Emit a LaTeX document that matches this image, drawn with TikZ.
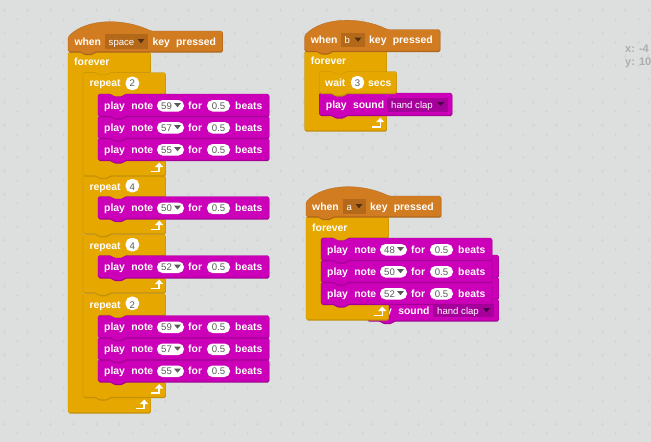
\documentclass[tikz,border=0pt]{standalone}
\usepackage{fontspec}
\setmainfont{Liberation Sans}
\definecolor{bg}{HTML}{DDDEDE}
\definecolor{dotc}{HTML}{D3D4D4}
\definecolor{hatc}{HTML}{D27C22}
\definecolor{hatl}{HTML}{A9641C}
\definecolor{hatbox}{HTML}{B4681A}
\definecolor{ctlc}{HTML}{E6A800}
\definecolor{ctll}{HTML}{C08E08}
\definecolor{sndc}{HTML}{CC00B8}
\definecolor{sndl}{HTML}{A00094}
\definecolor{sndbox}{HTML}{A6009A}
\newcounter{txtno}
\newcommand\blkfont{\bfseries\fontsize{10.4}{12}\selectfont\spaceskip=6.3pt\relax}
\newcommand\valfont{\fontsize{9.6}{11}\selectfont}
\tikzset{
  blktext/.style={anchor=base west,inner sep=0pt,text=white,font=\blkfont},
  valtext/.style={anchor=base,inner sep=0pt,text=black!65,font=\valfont},
  boxtext/.style={anchor=base west,inner sep=0pt,text=white,font=\valfont},
  coordtext/.style={anchor=base west,inner sep=0pt,text=black!32,font=\bfseries\fontsize{11}{13}\selectfont},
  bevel/.style={preaction={fill=#1,transform canvas={xshift=.3pt,yshift=-1pt}},draw=#1,line width=.25pt},
  hatblk/.style={bevel=hatl,fill=hatc},
  ctlblk/.style={bevel=ctll,fill=ctlc},
  sndblk/.style={bevel=sndl,fill=sndc},
}
% text node with an automatic name
\newcommand\txt[4]{\stepcounter{txtno}\node[#3] (t\arabic{txtno}) at ({#1},{#2}) {#4};}
% oval input: x1 x2 ytop ybottom
\newcommand\inpoval[4]{\fill[white,rounded corners=5.5pt] ({#1},{#3}) rectangle ({#2},{#4});}
\newcommand\tri[3]{\fill[#3] ({#1-3.5},{#2-2}) -- ({#1+3.5},{#2-2}) -- ({#1},{#2+2.2}) -- cycle;}
% stack block: x y w h style
\newcommand\stk[5]{\path[#5,rounded corners=1.5pt]
  (#1,#2) -- ({#1+13},#2) -- ({#1+15.5},{#2+2.5}) -- ({#1+24.5},{#2+2.5}) -- ({#1+27},#2)
  -- ({#1+#3},#2) -- ({#1+#3},{#2+#4})
  -- ({#1+27},{#2+#4}) -- ({#1+24.5},{#2+#4+2.5}) -- ({#1+15.5},{#2+#4+2.5}) -- ({#1+13},{#2+#4})
  -- (#1,{#2+#4}) -- cycle;}
% C block: x y w arm headh innerh footh bumpdepth
\newcommand\cblk[8]{\path[ctlblk,rounded corners=1.5pt]
  (#1,#2) -- ({#1+13},#2) -- ({#1+15.5},{#2+2.5}) -- ({#1+24.5},{#2+2.5}) -- ({#1+27},#2)
  -- ({#1+#3},#2) -- ({#1+#3},{#2+#5})
  -- ({#1+#4+27},{#2+#5}) -- ({#1+#4+24.5},{#2+#5+2.5}) -- ({#1+#4+15.5},{#2+#5+2.5}) -- ({#1+#4+13},{#2+#5})
  -- ({#1+#4},{#2+#5}) -- ({#1+#4},{#2+#5+#6})
  -- ({#1+#4+13},{#2+#5+#6}) -- ({#1+#4+15.5},{#2+#5+#6+2.5}) -- ({#1+#4+24.5},{#2+#5+#6+2.5}) -- ({#1+#4+27},{#2+#5+#6})
  -- ({#1+#3},{#2+#5+#6}) -- ({#1+#3},{#2+#5+#6+#7})
  -- ({#1+27},{#2+#5+#6+#7}) -- ({#1+24.5},{#2+#5+#6+#7+#8}) -- ({#1+15.5},{#2+#5+#6+#7+#8}) -- ({#1+13},{#2+#5+#6+#7})
  -- (#1,{#2+#5+#6+#7}) -- cycle;
  \draw[white,line width=1.6pt] ({#1+#3-15},{#2+#5+#6+#7-4}) -- ({#1+#3-6.3},{#2+#5+#6+#7-4}) -- ({#1+#3-6.3},{#2+#5+#6+#7-9});
  \fill[white] ({#1+#3-10.5},{#2+#5+#6+#7-8.5}) -- ({#1+#3-6.3},{#2+#5+#6+#7-13}) -- ({#1+#3-2.3},{#2+#5+#6+#7-8.5}) -- cycle;}
% hat: x y(body top) w h
\newcommand\hatblock[4]{\path[hatblk,rounded corners=1.5pt]
  (#1,{#2+6}) .. controls ({#1+18},{#2-13}) and ({#1+56},{#2-13}) .. ({#1+83},#2)
  -- ({#1+#3},#2) -- ({#1+#3},{#2+#4})
  -- ({#1+27},{#2+#4}) -- ({#1+24.5},{#2+#4+2.5}) -- ({#1+15.5},{#2+#4+2.5}) -- ({#1+13},{#2+#4})
  -- (#1,{#2+#4}) -- cycle;}
% hat labels: x(when) baseline x1 x2 (box) key-x letter
\newcommand\hattext[6]{\txt{#1}{#2}{blktext}{when}
  \fill[hatbox] (#3,{#2-11}) rectangle (#4,{#2+3.5});
  \txt{#3+3.5}{#2}{boxtext}{#6}
  \tri{#4-7}{#2-4}{black!55!hatbox}
  \txt{#5}{#2}{blktext}{key pressed}}
% play note: x y value
\newcommand\pnote[3]{\stk{#1}{#2}{171}{22}{sndblk}
  \txt{#1+6}{#2+15}{blktext}{play note}
  \inpoval{#1+59}{#1+86}{#2+6}{#2+17.5}
  \txt{#1+68.5}{#2+15.3}{valtext}{#3}
  \tri{#1+79.5}{#2+11}{black!65}
  \txt{#1+90}{#2+15}{blktext}{for}
  \inpoval{#1+109}{#1+132}{#2+6}{#2+17.5}
  \txt{#1+120.5}{#2+15.3}{valtext}{0.5}
  \txt{#1+137}{#2+15}{blktext}{beats}}
\begin{document}
\begin{tikzpicture}[x=1pt,y=-1pt]
\useasboundingbox (0,0) rectangle (651,442);
\fill[bg] (0,0) rectangle (651,442);
% workspace dots
\foreach \i in {0,...,28}{\foreach \j in {0,...,18}{
  \fill[dotc] ({4.5+23*\i-.5},{10+23*\j-1.7}) rectangle ++(1,3.4);
  \fill[dotc] ({4.5+23*\i-1.7},{10+23*\j-.5}) rectangle ++(3.4,1);
  \fill[dotc] ({17.3+23*\i-.5},{19.7+23*\j-1.7}) rectangle ++(1,3.4);
  \fill[dotc] ({17.3+23*\i-1.7},{19.7+23*\j-.5}) rectangle ++(3.4,1);
}}
% coordinates readout
\txt{625}{52}{coordtext}{x: -4}
\txt{625}{65.7}{coordtext}{y: 10}

% ---------- left stack ----------
\cblk{68}{52}{82.5}{15}{20.5}{324.5}{15.5}{0}
% repeat 4
\cblk{83}{293.5}{82.5}{15}{21.5}{66.5}{15.5}{2.5}
\pnote{98}{359.5}{55}
\pnote{98}{337.5}{57}
\pnote{98}{315.5}{59}
\txt{89.3}{308.5}{blktext}{repeat}
\inpoval{125.7}{139}{296.7}{310}
\txt{132.3}{308.5}{valtext}{2}
% repeat 3
\cblk{83}{234.5}{82.5}{15}{21}{22}{15}{2.5}
\pnote{98}{255.5}{52}
\txt{89.3}{249}{blktext}{repeat}
\inpoval{125.7}{139}{238}{251.3}
\txt{132.3}{249}{valtext}{4}
% repeat 2
\cblk{83}{175.5}{82.5}{15}{21}{22}{15}{2.5}
\pnote{98}{196.5}{50}
\txt{89.3}{190}{blktext}{repeat}
\inpoval{125.7}{139}{179}{192.3}
\txt{132.3}{190}{valtext}{4}
% repeat 1
\cblk{83}{72.5}{82.5}{15}{21.5}{66}{15.5}{2.5}
\pnote{98}{138}{55}
\pnote{98}{116}{57}
\pnote{98}{94}{59}
\txt{89.3}{86.7}{blktext}{repeat}
\inpoval{125.7}{139}{76.7}{90}
\txt{132.3}{86.7}{valtext}{2}
\txt{74}{65.6}{blktext}{forever}
\hatblock{68}{31}{154.5}{20.5}
\hattext{74.3}{45}{105}{148}{152.3}{space}

% ---------- stack b ----------
\cblk{304.6}{51}{82}{14.6}{21}{43}{15.7}{0}
\stk{319.2}{93}{132.8}{22}{sndblk}
\txt{325.7}{108}{blktext}{play sound}
\fill[sndbox] (387,98) rectangle (447.7,111.7);
\txt{391}{108}{boxtext}{hand clap}
\tri{440.7}{104}{black!55!sndbox}
\stk{319.2}{71.5}{77.4}{21.5}{ctlblk}
\txt{325}{86}{blktext}{wait}
\inpoval{351}{364}{76}{89}
\txt{357.5}{86}{valtext}{3}
\txt{368}{86}{blktext}{secs}
\txt{310.7}{64}{blktext}{forever}
\hatblock{304.6}{29.5}{135.4}{21.5}
\hattext{310.7}{43.5}{341}{365}{369}{b}

% ---------- stack a ----------
\stk{367}{255}{131.6}{22}{sndblk}
\stk{367}{277}{131.6}{22}{sndblk}
\stk{367}{299}{131.6}{21.5}{sndblk}
\txt{371}{314}{blktext}{play sound}
\fill[sndbox] (433,304) rectangle (494,317);
\txt{437}{314}{boxtext}{hand clap}
\tri{486.5}{310}{black!55!sndbox}
\cblk{306}{216.5}{82.6}{15}{21}{66}{16}{0}
\pnote{321}{282}{52}
\pnote{321}{260}{50}
\pnote{321}{238}{48}
\txt{312}{231}{blktext}{forever}
\hatblock{306}{196}{135}{20.5}
\hattext{312}{210}{343}{366}{370}{a}
\end{tikzpicture}
\end{document}
